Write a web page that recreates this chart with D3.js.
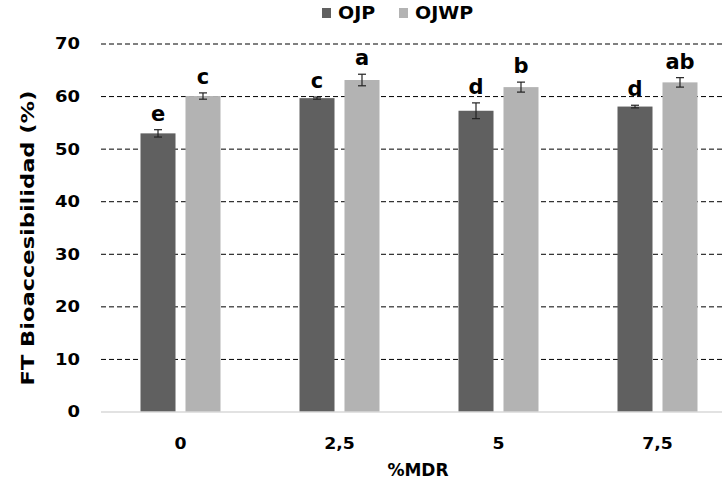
<!DOCTYPE html>
<html>
<head>
<meta charset="utf-8">
<script src="https://cdn.jsdelivr.net/npm/d3@7"></script>
<style>
  body { margin: 0; background: #fff; }
  text { font-family: "DejaVu Sans", sans-serif; font-weight: bold; }
</style>
</head>
<body>
<div id="chart"></div>
<script>
const categories = ['0', '2,5', '5', '7,5'];
const series = ['OJP', 'OJWP'];
const ojpValues = [53.0, 59.7, 57.3, 58.1];
const ojpErrors = [0.7, 0.2, 1.5, 0.25];
const ojwpValues = [60.1, 63.15, 61.8, 62.7];
const ojwpErrors = [0.6, 1.1, 0.95, 0.9];
const ojpLetters = ['e', 'c', 'd', 'd'];
const ojwpLetters = ['c', 'a', 'b', 'ab'];
const yTicks = [0, 10, 20, 30, 40, 50, 60, 70];
const colors = ['#606060', '#b3b3b3'];

const width = 724;
const height = 484;
const margin = { top: 44, right: -13, bottom: 72, left: 101 };

const rows = [];
categories.forEach((c, i) => {
  rows.push({ cat: c, s: 'OJP', v: ojpValues[i], e: ojpErrors[i], l: ojpLetters[i] });
  rows.push({ cat: c, s: 'OJWP', v: ojwpValues[i], e: ojwpErrors[i], l: ojwpLetters[i] });
});

const svg = d3.select('#chart')
  .append('svg')
  .attr('width', width)
  .attr('height', height);

const x0 = d3.scaleBand()
  .domain(categories)
  .range([margin.left, width - margin.right]);

const x1 = d3.scaleBand()
  .domain(series)
  .range([x0.bandwidth() / 2 - 40, x0.bandwidth() / 2 + 40])
  .paddingInner(0.222);

const y = d3.scaleLinear()
  .domain([0, 70])
  .range([height - margin.bottom, margin.top]);

const color = d3.scaleOrdinal().domain(series).range(colors);

// dashed gridlines
svg.append('g')
  .selectAll('line')
  .data(yTicks.filter(d => d > 0))
  .enter()
  .append('line')
  .attr('x1', margin.left)
  .attr('x2', width - 2)
  .attr('y1', d => y(d))
  .attr('y2', d => y(d))
  .attr('stroke', '#000')
  .attr('stroke-width', 1)
  .attr('stroke-dasharray', '5,3');

// y tick labels (font is drawn a bit wider than normal)
svg.append('g')
  .selectAll('text')
  .data(yTicks)
  .enter()
  .append('text')
  .attr('transform', d => `translate(80,${y(d)}) scale(1.2,1)`)
  .attr('dy', '0.36em')
  .attr('text-anchor', 'end')
  .attr('font-size', '15px')
  .attr('fill', '#000')
  .text(d => d);

// bars
svg.append('g')
  .selectAll('rect')
  .data(rows)
  .enter()
  .append('rect')
  .attr('x', d => x0(d.cat) + x1(d.s))
  .attr('y', d => y(d.v))
  .attr('width', x1.bandwidth())
  .attr('height', d => y(0) - y(d.v))
  .attr('fill', d => color(d.s));

// baseline
svg.append('line')
  .attr('x1', margin.left)
  .attr('x2', width - 2)
  .attr('y1', y(0))
  .attr('y2', y(0))
  .attr('stroke', '#d9d9d9')
  .attr('stroke-width', 1.5);

// error bars
const eb = svg.append('g')
  .selectAll('g')
  .data(rows)
  .enter()
  .append('g')
  .attr('stroke', '#222')
  .attr('stroke-width', 1.2);

const cx = d => x0(d.cat) + x1(d.s) + x1.bandwidth() / 2;

eb.append('line')
  .attr('x1', cx).attr('x2', cx)
  .attr('y1', d => y(d.v - d.e))
  .attr('y2', d => y(d.v + d.e));
eb.append('line')
  .attr('x1', d => cx(d) - 4).attr('x2', d => cx(d) + 4)
  .attr('y1', d => y(d.v + d.e))
  .attr('y2', d => y(d.v + d.e));
eb.append('line')
  .attr('x1', d => cx(d) - 4).attr('x2', d => cx(d) + 4)
  .attr('y1', d => y(d.v - d.e))
  .attr('y2', d => y(d.v - d.e));

// significance letters
svg.append('g')
  .selectAll('text')
  .data(rows)
  .enter()
  .append('text')
  .attr('x', cx)
  .attr('y', d => y(d.v + d.e) - 9)
  .attr('text-anchor', 'middle')
  .attr('font-family', '"Open Sans", sans-serif')
  .attr('font-size', '21px')
  .attr('fill', '#000')
  .text(d => d.l);

// x tick labels
svg.append('g')
  .selectAll('text')
  .data(categories)
  .enter()
  .append('text')
  .attr('transform', d => `translate(${x0(d) + x0.bandwidth() / 2},449) scale(1.08,1)`)
  .attr('text-anchor', 'middle')
  .attr('font-size', '16px')
  .attr('fill', '#000')
  .text(d => d);

// axis titles
svg.append('text')
  .attr('x', 418)
  .attr('y', 476)
  .attr('text-anchor', 'middle')
  .attr('font-size', '17px')
  .text('%MDR');

svg.append('text')
  .attr('transform', `translate(34,238) rotate(-90)`)
  .attr('text-anchor', 'middle')
  .attr('font-size', '17px')
  .attr('textLength', 295)
  .attr('lengthAdjust', 'spacingAndGlyphs')
  .text('FT Bioaccesibilidad (%)');

// legend
const legendX = [322, 399];
const legend = svg.append('g')
  .selectAll('g')
  .data(series)
  .enter()
  .append('g')
  .attr('transform', (d, i) => `translate(${legendX[i]},8)`);

legend.append('rect')
  .attr('width', 9)
  .attr('height', 10)
  .attr('fill', d => color(d));

legend.append('text')
  .attr('transform', 'translate(16,11) scale(1.12,1)')
  .attr('font-size', '17px')
  .text(d => d);
</script>
</body>
</html>
